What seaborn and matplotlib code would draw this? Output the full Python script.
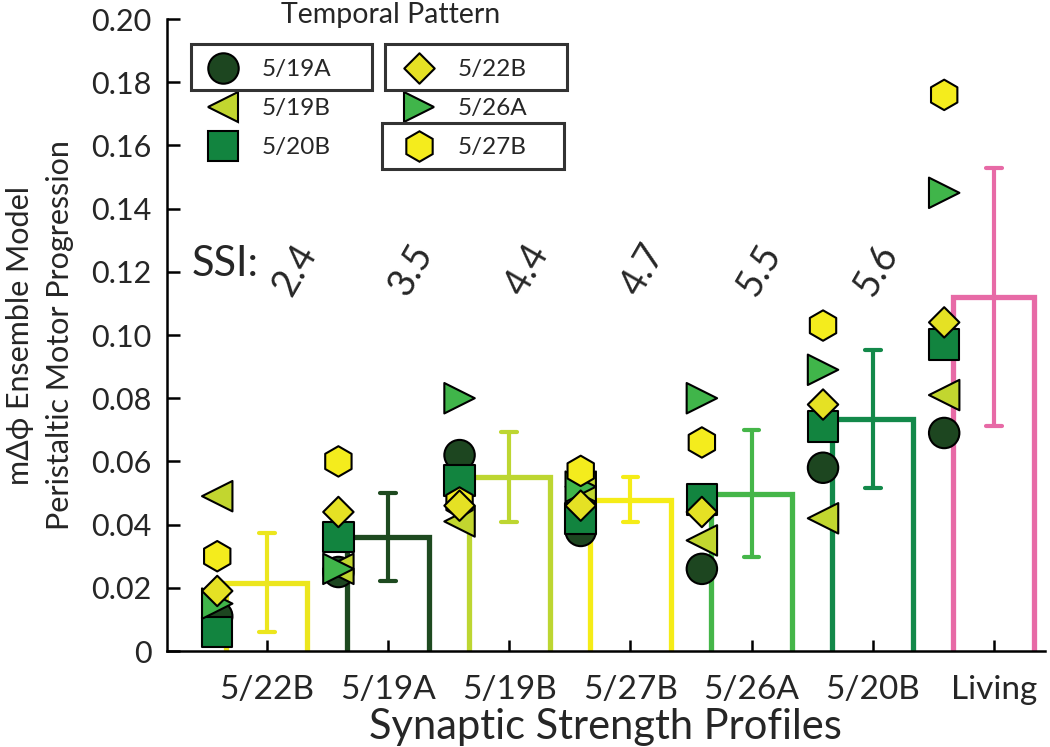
import numpy as np
import pandas as pd
import matplotlib
matplotlib.use("Agg")
import matplotlib.pyplot as plt
from matplotlib.patches import Rectangle
from matplotlib.path import Path
import seaborn as sns

# synaptic strength profiles on the x axis, with their SSI
profiles = ["5/22B", "5/19A", "5/19B", "5/27B", "5/26A", "5/20B", "Living"]
ssi = ["2.4", "3.5", "4.4", "4.7", "5.5", "5.6"]

# temporal patterns (legend order)
patterns = ["5/19A", "5/19B", "5/20B", "5/22B", "5/26A", "5/27B"]

# mean delta-phi for each temporal pattern, one value per profile
p_5_19A = [0.011, 0.025, 0.062, 0.038, 0.026, 0.058, 0.069]
p_5_19B = [0.049, 0.026, 0.041, 0.052, 0.035, 0.042, 0.081]
p_5_20B = [0.006, 0.036, 0.054, 0.042, 0.048, 0.071, 0.097]
p_5_22B = [0.019, 0.044, 0.046, 0.046, 0.044, 0.078, 0.104]
p_5_26A = [0.015, 0.026, 0.080, 0.052, 0.080, 0.089, 0.145]
p_5_27B = [0.030, 0.060, 0.047, 0.057, 0.066, 0.103, 0.176]

values = {"5/19A": p_5_19A, "5/19B": p_5_19B, "5/20B": p_5_20B,
          "5/22B": p_5_22B, "5/26A": p_5_26A, "5/27B": p_5_27B}

pattern_colors = {"5/19A": "#1d4620", "5/19B": "#c2d62f", "5/20B": "#12843f",
                  "5/22B": "#e5e124", "5/26A": "#40b54a", "5/27B": "#f4ec1d"}
bar_colors = {"5/22B": "#ece61e", "5/19A": "#1e4a20", "5/19B": "#bdd631",
              "5/27B": "#f5ec17", "5/26A": "#45b649", "5/20B": "#13894a",
              "Living": "#e76aa6"}

diamond = Path([(0, 1), (1, 0), (0, -1), (-1, 0), (0, 1)],
               [Path.MOVETO, Path.LINETO, Path.LINETO, Path.LINETO, Path.CLOSEPOLY])
markers = {"5/19A": "o", "5/19B": "<", "5/20B": "s",
           "5/22B": diamond, "5/26A": ">", "5/27B": "h"}

rows = []
for pat in patterns:
    for i, prof in enumerate(profiles):
        rows.append({"pattern": pat, "profile": prof, "pos": i, "value": values[pat][i]})
df = pd.DataFrame(rows)

# stacking order of the markers (later ones drawn on top)
draw_order = ["5/19A", "5/20B", "5/19B", "5/26A", "5/27B", "5/22B"]
df_pts = pd.concat([df[df["pattern"] == p] for p in draw_order])
df_pts["xpos"] = df_pts["pos"] - 0.41

sns.set_style("white")
plt.rcParams["font.family"] = ["Lato", "DejaVu Sans"]

fig = plt.figure(figsize=(10.5, 7.47), dpi=100)
ax = fig.add_axes([0.159, 0.1285, 0.836, 0.846])

sns.barplot(data=df, x="pos", y="value", hue="profile", hue_order=profiles,
            palette=bar_colors, legend=False, errorbar="sd", capsize=0.13,
            fill=False, width=0.67, linewidth=3.8, err_kws={"linewidth": 3.0},
            ax=ax)

# error bars take the colour of their bar
for line in ax.lines:
    idx = int(round(np.nanmean(line.get_xdata())))
    line.set_color(bar_colors[profiles[idx]])
    line.set_zorder(2)

# open bars: left side, top, right side
for patch in list(ax.patches):
    x0, w, h = patch.get_x(), patch.get_width(), patch.get_height()
    ax.plot([x0, x0, x0 + w, x0 + w], [0, h, h, 0], color=patch.get_edgecolor(),
            lw=3.8, solid_joinstyle="miter", solid_capstyle="butt", zorder=1.5,
            clip_on=False)
    patch.remove()

sns.scatterplot(data=df_pts, x="xpos", y="value", hue="pattern", style="pattern",
                hue_order=patterns, style_order=patterns, palette=pattern_colors,
                markers=markers, s=480, edgecolor="black", linewidth=1.5,
                zorder=3, ax=ax)

# SSI annotations
ax.text(-0.62, 0.1225, "SSI:", fontsize=30, ha="left", va="center")
for i, s in enumerate(ssi):
    ax.text(i * 0.96 + 0.23, 0.1206, s, fontsize=27, rotation=60,
            rotation_mode="anchor", ha="center", va="center")

ax.set_xlim(-0.825, 6.42)
ax.set_ylim(0, 0.2)
ax.set_xticks(range(len(profiles)))
ax.set_xticklabels(profiles)
yt = np.arange(0, 0.201, 0.02)
ax.set_yticks(yt)
ax.set_yticklabels(["0"] + [f"{v:.2f}" for v in yt[1:]])
ax.tick_params(axis="x", direction="in", length=8, width=1.8, color="black",
               labelsize=24, pad=17, bottom=True)
ax.tick_params(axis="y", direction="in", length=9, width=1.8, color="black",
               labelsize=22, pad=11, left=True)
sns.despine(ax=ax)
for sp in ["left", "bottom"]:
    ax.spines[sp].set_linewidth(1.8)
    ax.spines[sp].set_color("black")

ax.set_xlabel("Synaptic Strength Profiles", fontsize=30)
ax.xaxis.set_label_coords(0.5, -0.09)
ax.set_ylabel("m\u0394\u03d5 Ensemble Model\nPeristaltic Motor Progression",
              fontsize=22, linespacing=1.5)
ax.yaxis.set_label_coords(-0.106, 0.5)

# legend
leg = ax.get_legend()
handles = leg.legend_handles
labels = [t.get_text() for t in leg.get_texts()]
ax.legend(handles, labels, ncol=2, frameon=False,
          loc="upper left", bbox_to_anchor=(179 / 1050, 1 - 40 / 747),
          bbox_transform=fig.transFigure, fontsize=17.5,
          handletextpad=0.6, columnspacing=2.6, labelspacing=0.74,
          borderpad=0.3)
fig.text(391 / 1050, 1 - 15 / 747, "Temporal Pattern", fontsize=20.5,
         ha="center", va="center")

# boxes drawn around some legend entries
for (x0, y0, x1, y1) in [(191, 44, 372, 90), (385, 44, 567, 90), (382, 123, 564, 169)]:
    fig.add_artist(Rectangle((x0 / 1050, 1 - y1 / 747), (x1 - x0) / 1050,
                             (y1 - y0) / 747, transform=fig.transFigure,
                             fill=False, lw=2.2, edgecolor="#333333"))

fig.savefig("out.png", dpi=100)
plt.close(fig)
